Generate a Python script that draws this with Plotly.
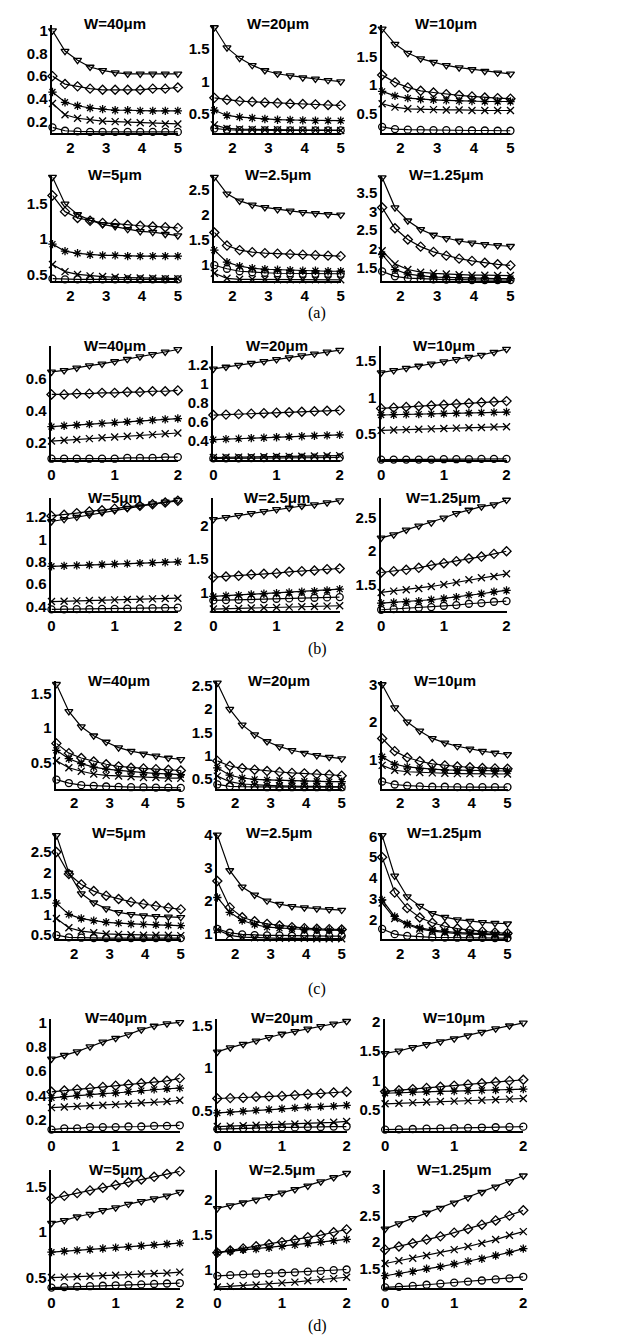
import plotly.graph_objects as go

# ---------------- x values ----------------
x_len = [1.5, 1.85, 2.2, 2.55, 2.9, 3.25, 3.6, 3.95, 4.3, 4.65, 5.0]
x_freq = [0.0, 0.2, 0.4, 0.6, 0.8, 1.0, 1.2, 1.4, 1.6, 1.8, 2.0]

widths = ["W=40\u03bcm", "W=20\u03bcm", "W=10\u03bcm", "W=5\u03bcm", "W=2.5\u03bcm", "W=1.25\u03bcm"]
panel_labels = ["(a)", "(b)", "(c)", "(d)"]

# ---------------- panel (a) ----------------
a40_tri = [1.0, 0.82, 0.74, 0.68, 0.65, 0.63, 0.62, 0.62, 0.62, 0.62, 0.62]
a40_dia = [0.6, 0.53, 0.51, 0.49, 0.48, 0.48, 0.48, 0.48, 0.49, 0.49, 0.5]
a40_ast = [0.46, 0.37, 0.34, 0.32, 0.31, 0.3, 0.3, 0.295, 0.295, 0.295, 0.295]
a40_x = [0.36, 0.26, 0.23, 0.215, 0.205, 0.2, 0.195, 0.19, 0.185, 0.18, 0.18]
a40_cir = [0.15, 0.12, 0.115, 0.11, 0.11, 0.11, 0.11, 0.11, 0.11, 0.11, 0.11]

a20_tri = [1.83, 1.52, 1.36, 1.25, 1.17, 1.12, 1.09, 1.06, 1.04, 1.02, 1.0]
a20_dia = [0.75, 0.72, 0.7, 0.69, 0.68, 0.67, 0.66, 0.655, 0.65, 0.64, 0.635]
a20_ast = [0.56, 0.48, 0.455, 0.44, 0.425, 0.415, 0.41, 0.405, 0.4, 0.4, 0.4]
a20_x = [0.335, 0.28, 0.27, 0.265, 0.26, 0.26, 0.255, 0.255, 0.255, 0.25, 0.25]
a20_cir = [0.28, 0.26, 0.255, 0.25, 0.25, 0.25, 0.25, 0.25, 0.25, 0.25, 0.25]

a10_tri = [2.0, 1.73, 1.57, 1.47, 1.41, 1.35, 1.31, 1.28, 1.25, 1.22, 1.2]
a10_dia = [1.18, 1.05, 0.96, 0.9, 0.87, 0.84, 0.82, 0.8, 0.78, 0.77, 0.76]
a10_ast = [0.89, 0.81, 0.77, 0.75, 0.74, 0.73, 0.72, 0.72, 0.71, 0.71, 0.71]
a10_x = [0.67, 0.61, 0.58, 0.57, 0.565, 0.56, 0.56, 0.55, 0.55, 0.55, 0.55]
a10_cir = [0.26, 0.22, 0.21, 0.205, 0.2, 0.2, 0.2, 0.195, 0.195, 0.19, 0.19]

a5_tri = [1.88, 1.5, 1.35, 1.27, 1.21, 1.18, 1.14, 1.11, 1.1, 1.07, 1.05]
a5_dia = [1.62, 1.39, 1.3, 1.26, 1.23, 1.22, 1.2, 1.19, 1.18, 1.17, 1.16]
a5_ast = [0.93, 0.83, 0.8, 0.78, 0.77, 0.77, 0.76, 0.76, 0.76, 0.76, 0.76]
a5_x = [0.64, 0.54, 0.5, 0.48, 0.47, 0.46, 0.455, 0.45, 0.445, 0.44, 0.44]
a5_cir = [0.44, 0.43, 0.43, 0.43, 0.43, 0.43, 0.43, 0.43, 0.43, 0.43, 0.43]

a25_tri = [2.75, 2.42, 2.28, 2.2, 2.15, 2.11, 2.08, 2.05, 2.03, 2.01, 2.0]
a25_dia = [1.65, 1.39, 1.3, 1.26, 1.24, 1.23, 1.22, 1.21, 1.2, 1.19, 1.18]
a25_ast = [1.3, 1.06, 0.98, 0.94, 0.92, 0.91, 0.9, 0.89, 0.89, 0.88, 0.88]
a25_x = [0.84, 0.74, 0.72, 0.72, 0.72, 0.71, 0.71, 0.71, 0.71, 0.71, 0.71]
a25_cir = [1.0, 0.93, 0.88, 0.86, 0.85, 0.84, 0.84, 0.83, 0.83, 0.83, 0.83]

a125_tri = [3.9, 3.1, 2.75, 2.52, 2.37, 2.28, 2.21, 2.16, 2.12, 2.09, 2.07]
a125_dia = [3.1, 2.55, 2.25, 2.06, 1.92, 1.82, 1.74, 1.68, 1.63, 1.59, 1.56]
a125_ast = [1.85, 1.45, 1.33, 1.28, 1.25, 1.24, 1.23, 1.22, 1.22, 1.21, 1.21]
a125_x = [1.95, 1.6, 1.45, 1.38, 1.35, 1.33, 1.31, 1.3, 1.3, 1.29, 1.29]
a125_cir = [1.4, 1.27, 1.22, 1.2, 1.19, 1.18, 1.18, 1.17, 1.17, 1.17, 1.17]

# ---------------- panel (b) ----------------
b40_tri = [0.64, 0.65, 0.665, 0.68, 0.69, 0.705, 0.72, 0.735, 0.75, 0.765, 0.78]
b40_dia = [0.5, 0.5, 0.505, 0.505, 0.51, 0.51, 0.515, 0.515, 0.52, 0.52, 0.525]
b40_ast = [0.3, 0.305, 0.31, 0.315, 0.32, 0.325, 0.33, 0.335, 0.34, 0.345, 0.35]
b40_x = [0.21, 0.215, 0.22, 0.225, 0.23, 0.235, 0.24, 0.245, 0.25, 0.255, 0.26]
b40_cir = [0.1, 0.1, 0.1, 0.1, 0.1, 0.1, 0.105, 0.105, 0.105, 0.11, 0.11]

b20_tri = [1.16, 1.18, 1.2, 1.22, 1.24, 1.26, 1.28, 1.3, 1.32, 1.34, 1.36]
b20_dia = [0.67, 0.675, 0.68, 0.685, 0.69, 0.695, 0.7, 0.705, 0.71, 0.715, 0.72]
b20_ast = [0.41, 0.415, 0.42, 0.425, 0.43, 0.435, 0.44, 0.445, 0.45, 0.455, 0.46]
b20_x = [0.22, 0.222, 0.224, 0.226, 0.228, 0.23, 0.232, 0.234, 0.236, 0.238, 0.24]
b20_cir = [0.21, 0.211, 0.212, 0.213, 0.214, 0.215, 0.216, 0.217, 0.218, 0.219, 0.22]

b10_tri = [1.34, 1.37, 1.4, 1.43, 1.46, 1.49, 1.52, 1.55, 1.58, 1.62, 1.66]
b10_dia = [0.85, 0.86, 0.87, 0.88, 0.89, 0.9, 0.91, 0.92, 0.93, 0.94, 0.95]
b10_ast = [0.76, 0.764, 0.768, 0.772, 0.776, 0.78, 0.784, 0.788, 0.792, 0.796, 0.8]
b10_x = [0.55, 0.555, 0.56, 0.565, 0.57, 0.575, 0.58, 0.585, 0.59, 0.595, 0.6]
b10_cir = [0.15, 0.15, 0.15, 0.15, 0.15, 0.155, 0.155, 0.155, 0.16, 0.16, 0.16]

b5_tri = [1.16, 1.18, 1.2, 1.22, 1.24, 1.26, 1.28, 1.3, 1.32, 1.335, 1.35]
b5_dia = [1.21, 1.22, 1.235, 1.25, 1.26, 1.275, 1.29, 1.3, 1.315, 1.33, 1.345]
b5_ast = [0.76, 0.764, 0.768, 0.772, 0.776, 0.78, 0.784, 0.788, 0.792, 0.796, 0.8]
b5_x = [0.445, 0.448, 0.451, 0.454, 0.457, 0.46, 0.463, 0.466, 0.469, 0.472, 0.475]
b5_cir = [0.375, 0.376, 0.377, 0.378, 0.379, 0.38, 0.382, 0.384, 0.386, 0.388, 0.39]

b25_tri = [2.1, 2.13, 2.16, 2.19, 2.22, 2.25, 2.27, 2.3, 2.32, 2.35, 2.38]
b25_dia = [1.23, 1.24, 1.25, 1.27, 1.28, 1.29, 1.31, 1.32, 1.33, 1.35, 1.36]
b25_ast = [0.94, 0.95, 0.96, 0.97, 0.98, 0.99, 1.0, 1.01, 1.02, 1.03, 1.05]
b25_x = [0.75, 0.755, 0.76, 0.765, 0.77, 0.775, 0.78, 0.785, 0.79, 0.795, 0.8]
b25_cir = [0.88, 0.885, 0.89, 0.895, 0.9, 0.905, 0.91, 0.915, 0.92, 0.925, 0.93]

b125_tri = [2.2, 2.25, 2.32, 2.38, 2.43, 2.5, 2.57, 2.62, 2.67, 2.7, 2.77]
b125_dia = [1.68, 1.7, 1.72, 1.75, 1.79, 1.82, 1.85, 1.89, 1.92, 1.96, 2.0]
b125_x = [1.38, 1.4, 1.42, 1.44, 1.47, 1.5, 1.53, 1.57, 1.6, 1.62, 1.66]
b125_ast = [1.22, 1.23, 1.24, 1.25, 1.27, 1.29, 1.31, 1.34, 1.36, 1.39, 1.41]
b125_cir = [1.12, 1.13, 1.14, 1.15, 1.16, 1.18, 1.19, 1.21, 1.22, 1.24, 1.25]

# ---------------- panel (c) ----------------
c40_tri = [1.63, 1.24, 1.02, 0.89, 0.8, 0.72, 0.67, 0.63, 0.6, 0.57, 0.55]
c40_dia = [0.78, 0.64, 0.57, 0.52, 0.48, 0.45, 0.43, 0.42, 0.41, 0.4, 0.39]
c40_ast = [0.68, 0.56, 0.49, 0.44, 0.41, 0.39, 0.37, 0.36, 0.35, 0.34, 0.33]
c40_x = [0.53, 0.43, 0.38, 0.34, 0.32, 0.31, 0.3, 0.29, 0.29, 0.28, 0.28]
c40_cir = [0.26, 0.21, 0.18, 0.17, 0.16, 0.155, 0.15, 0.15, 0.145, 0.145, 0.14]

c20_tri = [2.57, 2.0, 1.66, 1.45, 1.3, 1.19, 1.11, 1.05, 1.0, 0.96, 0.93]
c20_dia = [0.88, 0.77, 0.72, 0.69, 0.66, 0.64, 0.62, 0.61, 0.59, 0.58, 0.56]
c20_ast = [0.73, 0.57, 0.51, 0.48, 0.47, 0.46, 0.45, 0.44, 0.44, 0.43, 0.43]
c20_x = [0.55, 0.43, 0.38, 0.36, 0.35, 0.34, 0.33, 0.33, 0.33, 0.32, 0.32]
c20_cir = [0.37, 0.33, 0.32, 0.32, 0.31, 0.31, 0.31, 0.31, 0.31, 0.31, 0.31]

c10_tri = [3.0, 2.38, 2.0, 1.76, 1.56, 1.44, 1.35, 1.28, 1.22, 1.17, 1.13]
c10_dia = [1.56, 1.22, 1.05, 0.95, 0.88, 0.84, 0.81, 0.79, 0.77, 0.76, 0.75]
c10_ast = [1.07, 0.87, 0.8, 0.76, 0.74, 0.72, 0.71, 0.7, 0.7, 0.69, 0.69]
c10_x = [0.84, 0.71, 0.67, 0.65, 0.64, 0.63, 0.62, 0.62, 0.62, 0.61, 0.61]
c10_cir = [0.41, 0.33, 0.3, 0.28, 0.27, 0.27, 0.26, 0.26, 0.26, 0.26, 0.26]

c5_tri = [2.9, 2.0, 1.5, 1.28, 1.14, 1.05, 1.0, 0.97, 0.95, 0.94, 0.93]
c5_dia = [2.5, 1.97, 1.72, 1.56, 1.45, 1.37, 1.3, 1.25, 1.2, 1.16, 1.12]
c5_ast = [1.27, 1.0, 0.9, 0.85, 0.81, 0.79, 0.77, 0.76, 0.75, 0.74, 0.73]
c5_x = [0.9, 0.68, 0.6, 0.56, 0.53, 0.52, 0.51, 0.5, 0.5, 0.5, 0.49]
c5_cir = [0.5, 0.45, 0.44, 0.43, 0.43, 0.43, 0.43, 0.43, 0.43, 0.43, 0.43]

c25_tri = [4.0, 2.92, 2.42, 2.18, 2.0, 1.9, 1.83, 1.79, 1.76, 1.74, 1.72]
c25_dia = [2.6, 1.8, 1.5, 1.38, 1.3, 1.25, 1.2, 1.17, 1.15, 1.14, 1.13]
c25_ast = [2.1, 1.65, 1.4, 1.28, 1.2, 1.17, 1.15, 1.13, 1.12, 1.11, 1.1]
c25_x = [1.12, 0.95, 0.9, 0.88, 0.87, 0.86, 0.86, 0.86, 0.85, 0.85, 0.85]
c25_cir = [1.15, 1.03, 0.98, 0.96, 0.95, 0.95, 0.94, 0.94, 0.93, 0.93, 0.93]

c125_tri = [6.05, 4.1, 3.1, 2.65, 2.3, 2.12, 2.0, 1.93, 1.87, 1.83, 1.8]
c125_dia = [5.0, 3.3, 2.55, 2.1, 1.85, 1.68, 1.57, 1.49, 1.43, 1.38, 1.34]
c125_ast = [2.95, 2.15, 1.8, 1.6, 1.5, 1.43, 1.38, 1.35, 1.32, 1.3, 1.28]
c125_x = [2.8, 2.05, 1.75, 1.55, 1.45, 1.38, 1.33, 1.3, 1.28, 1.26, 1.25]
c125_cir = [1.55, 1.3, 1.22, 1.18, 1.15, 1.14, 1.13, 1.12, 1.12, 1.11, 1.11]

# ---------------- panel (d) ----------------
d40_tri = [0.7, 0.73, 0.76, 0.8, 0.84, 0.87, 0.9, 0.94, 0.97, 0.99, 1.0]
d40_dia = [0.43, 0.44, 0.45, 0.46, 0.47, 0.48, 0.49, 0.5, 0.51, 0.52, 0.54]
d40_ast = [0.38, 0.39, 0.4, 0.41, 0.415, 0.42, 0.43, 0.44, 0.45, 0.455, 0.46]
d40_x = [0.3, 0.305, 0.31, 0.315, 0.32, 0.325, 0.33, 0.34, 0.345, 0.35, 0.36]
d40_cir = [0.12, 0.13, 0.13, 0.14, 0.14, 0.14, 0.145, 0.145, 0.15, 0.15, 0.155]

d20_tri = [1.19, 1.24, 1.28, 1.32, 1.36, 1.4, 1.43, 1.46, 1.49, 1.52, 1.55]
d20_dia = [0.64, 0.645, 0.65, 0.66, 0.665, 0.67, 0.68, 0.69, 0.7, 0.71, 0.72]
d20_ast = [0.47, 0.48, 0.49, 0.5, 0.51, 0.52, 0.53, 0.54, 0.545, 0.55, 0.56]
d20_x = [0.31, 0.315, 0.32, 0.325, 0.33, 0.335, 0.34, 0.35, 0.355, 0.36, 0.37]
d20_cir = [0.28, 0.285, 0.29, 0.29, 0.295, 0.3, 0.3, 0.305, 0.305, 0.31, 0.31]

d10_tri = [1.46, 1.5, 1.56, 1.61, 1.66, 1.71, 1.76, 1.82, 1.88, 1.93, 1.98]
d10_dia = [0.81, 0.83, 0.85, 0.87, 0.89, 0.91, 0.93, 0.95, 0.97, 0.99, 1.01]
d10_ast = [0.78, 0.79, 0.8, 0.805, 0.81, 0.815, 0.82, 0.83, 0.835, 0.84, 0.85]
d10_x = [0.6, 0.61, 0.62, 0.63, 0.64, 0.645, 0.65, 0.66, 0.67, 0.68, 0.69]
d10_cir = [0.16, 0.165, 0.17, 0.175, 0.18, 0.185, 0.19, 0.195, 0.2, 0.205, 0.21]

d5_dia = [1.37, 1.4, 1.43, 1.46, 1.49, 1.52, 1.55, 1.58, 1.61, 1.64, 1.67]
d5_tri = [1.1, 1.13, 1.17, 1.2, 1.24, 1.27, 1.31, 1.34, 1.37, 1.4, 1.44]
d5_ast = [0.78, 0.79, 0.8, 0.81, 0.82, 0.83, 0.84, 0.85, 0.86, 0.87, 0.88]
d5_x = [0.5, 0.505, 0.51, 0.515, 0.52, 0.525, 0.53, 0.54, 0.545, 0.55, 0.56]
d5_cir = [0.39, 0.395, 0.4, 0.405, 0.41, 0.415, 0.42, 0.425, 0.43, 0.435, 0.44]

d25_tri = [1.88, 1.92, 1.96, 2.0, 2.05, 2.1, 2.15, 2.2, 2.26, 2.32, 2.38]
d25_dia = [1.25, 1.28, 1.31, 1.34, 1.37, 1.4, 1.43, 1.47, 1.5, 1.54, 1.58]
d25_ast = [1.25, 1.27, 1.29, 1.3, 1.32, 1.34, 1.36, 1.38, 1.4, 1.42, 1.44]
d25_cir = [0.92, 0.93, 0.94, 0.95, 0.955, 0.96, 0.97, 0.98, 0.99, 1.0, 1.01]
d25_x = [0.76, 0.77, 0.78, 0.79, 0.8, 0.82, 0.83, 0.85, 0.87, 0.88, 0.9]

d125_tri = [2.25, 2.35, 2.45, 2.55, 2.64, 2.74, 2.84, 2.94, 3.04, 3.14, 3.25]
d125_dia = [1.86, 1.92, 1.98, 2.05, 2.11, 2.18, 2.25, 2.33, 2.41, 2.5, 2.6]
d125_x = [1.6, 1.65, 1.7, 1.75, 1.8, 1.86, 1.92, 1.98, 2.05, 2.13, 2.2]
d125_ast = [1.37, 1.41, 1.45, 1.5, 1.54, 1.59, 1.64, 1.69, 1.75, 1.81, 1.88]
d125_cir = [1.15, 1.16, 1.18, 1.2, 1.22, 1.24, 1.26, 1.28, 1.3, 1.32, 1.35]

# group series per subplot (order: tri, dia, ast, x, cir)
panels = [
    (x_len, [(a40_tri, a40_dia, a40_ast, a40_x, a40_cir), (a20_tri, a20_dia, a20_ast, a20_x, a20_cir),
             (a10_tri, a10_dia, a10_ast, a10_x, a10_cir), (a5_tri, a5_dia, a5_ast, a5_x, a5_cir),
             (a25_tri, a25_dia, a25_ast, a25_x, a25_cir), (a125_tri, a125_dia, a125_ast, a125_x, a125_cir)]),
    (x_freq, [(b40_tri, b40_dia, b40_ast, b40_x, b40_cir), (b20_tri, b20_dia, b20_ast, b20_x, b20_cir),
              (b10_tri, b10_dia, b10_ast, b10_x, b10_cir), (b5_tri, b5_dia, b5_ast, b5_x, b5_cir),
              (b25_tri, b25_dia, b25_ast, b25_x, b25_cir), (b125_tri, b125_dia, b125_ast, b125_x, b125_cir)]),
    (x_len, [(c40_tri, c40_dia, c40_ast, c40_x, c40_cir), (c20_tri, c20_dia, c20_ast, c20_x, c20_cir),
             (c10_tri, c10_dia, c10_ast, c10_x, c10_cir), (c5_tri, c5_dia, c5_ast, c5_x, c5_cir),
             (c25_tri, c25_dia, c25_ast, c25_x, c25_cir), (c125_tri, c125_dia, c125_ast, c125_x, c125_cir)]),
    (x_freq, [(d40_tri, d40_dia, d40_ast, d40_x, d40_cir), (d20_tri, d20_dia, d20_ast, d20_x, d20_cir),
              (d10_tri, d10_dia, d10_ast, d10_x, d10_cir), (d5_tri, d5_dia, d5_ast, d5_x, d5_cir),
              (d25_tri, d25_dia, d25_ast, d25_x, d25_cir), (d125_tri, d125_dia, d125_ast, d125_x, d125_cir)]),
]

# y ranges and ticks per subplot
y_ranges = [
    [[0.1, 1.05], [0.21, 1.87], [0.15, 2.07], [0.41, 1.9], [0.69, 2.78], [1.15, 3.95]],
    [[0.09, 0.8], [0.19, 1.4], [0.14, 1.7], [0.36, 1.37], [0.72, 2.42], [1.1, 2.8]],
    [[0.13, 1.67], [0.28, 2.6], [0.22, 3.08], [0.4, 2.95], [0.83, 4.05], [1.05, 6.15]],
    [[0.11, 1.03], [0.26, 1.58], [0.14, 2.05], [0.38, 1.68], [0.74, 2.42], [1.13, 3.35]],
]
y_ticks = [
    [[0.2, 0.4, 0.6, 0.8, 1], [0.5, 1, 1.5], [0.5, 1, 1.5, 2], [0.5, 1, 1.5], [1, 1.5, 2, 2.5], [1.5, 2, 2.5, 3, 3.5]],
    [[0.2, 0.4, 0.6], [0.4, 0.6, 0.8, 1, 1.2], [0.5, 1, 1.5], [0.4, 0.6, 0.8, 1, 1.2], [1, 1.5, 2], [1.5, 2, 2.5]],
    [[0.5, 1, 1.5], [0.5, 1, 1.5, 2, 2.5], [1, 2, 3], [0.5, 1, 1.5, 2, 2.5], [1, 2, 3, 4], [2, 3, 4, 5, 6]],
    [[0.2, 0.4, 0.6, 0.8, 1], [0.5, 1, 1.5], [0.5, 1, 1.5, 2], [0.5, 1, 1.5], [1, 1.5, 2], [1.5, 2, 2.5, 3]],
]
x_ranges = [[1.5, 5], [0, 2], [1.5, 5], [0, 2]]
x_ticks = [[2, 3, 4, 5], [0, 1, 2], [2, 3, 4, 5], [0, 1, 2]]

# geometry (pixels)
W_PX, H_PX = 618, 1342
rows_px = [[(10, 119), (162, 268)], [(334, 449), (487, 601)],
           [(672, 780), (825, 932)], [(1012, 1125), (1165, 1284)]]
cols_px = [[(41, 168), (205, 333), (375, 505)], [(40, 168), (204, 332), (374, 501)],
           [(45, 171), (208, 334), (375, 502)], [(40, 170), (208, 339), (378, 518)]]
label_y_px = [300, 639, 982, 1322]

symbols = ["triangle-down-open", "diamond-open", "asterisk-open", "x-thin-open", "circle-open"]

fig = go.Figure()
annotations = []
tick_font = dict(family="Liberation Sans, Arial", size=15, color="black", weight="bold")
title_font = dict(family="Liberation Sans, Arial", size=15, color="black", weight="bold")

n = 0
for p, (xv, subs) in enumerate(panels):
    for k, series in enumerate(subs):
        n += 1
        r, c = divmod(k, 3)
        top, bot = rows_px[p][r]
        left, right = cols_px[p][c]
        sfx = "" if n == 1 else str(n)
        fig.layout["xaxis" + sfx] = dict(
            domain=[left / W_PX, right / W_PX], anchor="y" + sfx,
            range=x_ranges[p], tickvals=x_ticks[p], showline=True, linecolor="black",
            linewidth=1.5, ticks="", showgrid=False, zeroline=False, tickfont=tick_font)
        fig.layout["yaxis" + sfx] = dict(
            domain=[1 - bot / H_PX, 1 - top / H_PX], anchor="x" + sfx,
            range=y_ranges[p][k], tickvals=y_ticks[p][k], showline=True, linecolor="black",
            linewidth=1.5, ticks="", showgrid=False, zeroline=False, tickfont=tick_font)
        for s, yv in enumerate(series):
            fig.add_trace(go.Scatter(
                x=xv, y=yv, xaxis="x" + sfx, yaxis="y" + sfx, mode="lines+markers",
                line=dict(color="black", width=1.2),
                marker=dict(symbol=symbols[s], size=7, color="black", line=dict(width=1.3, color="black")),
                cliponaxis=False, showlegend=False, hoverinfo="skip"))
        annotations.append(dict(
            text=widths[k], x=(left + right) / 2 / W_PX, y=1 - (top - 1) / H_PX,
            xref="paper", yref="paper", showarrow=False, font=title_font,
            xanchor="center", yanchor="middle"))
    annotations.append(dict(
        text=panel_labels[p], x=309 / W_PX, y=1 - label_y_px[p] / H_PX,
        xref="paper", yref="paper", showarrow=False,
        font=dict(family="Liberation Serif, Times New Roman", size=16, color="black"),
        xanchor="center", yanchor="middle"))

fig.update_layout(
    width=W_PX, height=H_PX, autosize=False,
    margin=dict(l=0, r=0, t=0, b=0),
    paper_bgcolor="white", plot_bgcolor="white",
    annotations=annotations)

fig.write_html("out.html")
